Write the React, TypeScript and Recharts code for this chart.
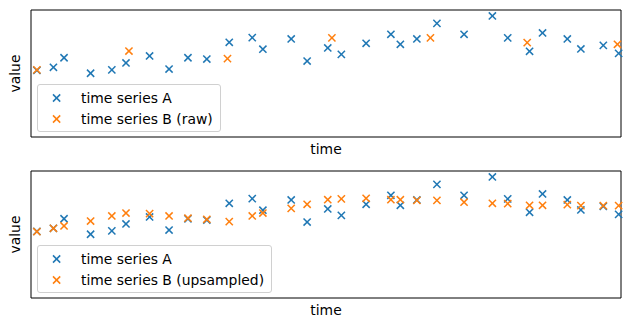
import React from 'react'
import { ScatterChart, Scatter, XAxis, YAxis, ReferenceArea } from 'recharts'

const timesA = [
  1.0, 3.8, 5.6, 10.1, 13.7, 16.1, 20.1, 23.4, 26.6, 29.8, 33.6, 37.5, 39.3, 44.1, 46.8, 50.3,
  52.6, 56.8, 61.0, 62.6, 65.4, 68.8, 73.4, 78.2, 80.8, 84.5, 86.7, 90.9, 93.2, 97.0, 99.6,
]
const seriesA = [
  5.25, 5.49, 6.24, 5.02, 5.28, 5.83, 6.38, 5.35, 6.24, 6.14, 7.46, 7.82, 6.91, 7.72, 5.98, 7.01,
  6.51, 7.38, 8.09, 7.3, 7.72, 8.95, 8.09, 9.53, 7.8, 6.75, 8.19, 7.72, 6.93, 7.22, 6.59,
]
const timesB = [1.0, 16.6, 33.3, 51.0, 67.7, 84.1, 99.4]
const seriesBRaw = [5.28, 6.77, 6.17, 7.8, 7.8, 7.43, 7.3]
const seriesBUpsampled = [
  5.22, 5.49, 5.67, 6.06, 6.46, 6.69, 6.64, 6.46, 6.28, 6.2, 6.01, 6.46, 6.69, 7.06, 7.38, 7.74,
  7.8, 7.85, 7.74, 7.74, 7.69, 7.69, 7.54, 7.46, 7.43, 7.3, 7.3, 7.35, 7.27, 7.27, 7.27,
]

const BLUE = '#1f77b4'
const ORANGE = '#ff7f0e'
const FONT = '"DejaVu Sans", sans-serif'

const dataA = timesA.map((t, i) => ({ t, v: seriesA[i] }))
const dataBRaw = timesB.map((t, i) => ({ t, v: seriesBRaw[i] }))
const dataBUp = timesA.map((t, i) => ({ t, v: seriesBUpsampled[i] }))

const XMark = (color: string) => (props: any) => {
  const { cx, cy } = props
  if (cx == null || cy == null) return <g />
  const r = 3.6
  return (
    <g stroke={color} strokeWidth={1.5}>
      <line x1={cx - r} y1={cy - r} x2={cx + r} y2={cy + r} />
      <line x1={cx - r} y1={cy + r} x2={cx + r} y2={cy - r} />
    </g>
  )
}

function LegendBox({ items }: { items: { name: string; color: string }[] }) {
  return (
    <div
      style={{
        position: 'absolute',
        left: 37,
        top: 84,
        background: 'rgba(255,255,255,0.8)',
        border: '1px solid #d0d0d0',
        borderRadius: 3,
        padding: '2px 7px 2px 0',
        fontFamily: FONT,
        fontSize: 13.9,
        color: '#000',
      }}
    >
      {items.map((it) => (
        <div key={it.name} style={{ display: 'flex', alignItems: 'center', height: 21 }}>
          <svg width={43} height={20} style={{ flexShrink: 0 }}>
            <g stroke={it.color} strokeWidth={1.5}>
              <line x1={15} y1={6.4} x2={22.2} y2={13.6} />
              <line x1={15} y1={13.6} x2={22.2} y2={6.4} />
            </g>
          </svg>
          <span style={{ whiteSpace: 'nowrap' }}>{it.name}</span>
        </div>
      ))}
    </div>
  )
}

function Panel({ bData, bName }: { bData: { t: number; v: number }[]; bName: string }) {
  return (
    <div style={{ position: 'relative', width: 630, height: 161 }}>
      <ScatterChart width={630} height={161} margin={{ top: 10, right: 9, left: 0, bottom: 0 }}>
        <XAxis
          type="number"
          dataKey="t"
          domain={[0, 100]}
          height={24}
          tick={false}
          tickLine={false}
          axisLine={false}
          label={{ value: 'time', position: 'center', fill: '#000', fontSize: 13.9, fontFamily: FONT }}
        />
        <YAxis
          type="number"
          dataKey="v"
          domain={[0, 10]}
          width={31}
          tick={false}
          tickLine={false}
          axisLine={false}
          label={{ value: 'value', angle: -90, position: 'center', fill: '#000', fontSize: 13.9, fontFamily: FONT }}
        />
        <ReferenceArea x1={0} x2={100} y1={0} y2={10} fill="none" stroke="#000" strokeWidth={1} />
        <Scatter name="time series A" data={dataA} shape={XMark(BLUE)} isAnimationActive={false} />
        <Scatter name={bName} data={bData} shape={XMark(ORANGE)} isAnimationActive={false} />
      </ScatterChart>
      <LegendBox
        items={[
          { name: 'time series A', color: BLUE },
          { name: bName, color: ORANGE },
        ]}
      />
    </div>
  )
}

export default function App() {
  return (
    <div style={{ position: 'fixed', left: 0, top: 0, width: 630, height: 328, background: '#fff' }}>
      <Panel bData={dataBRaw} bName="time series B (raw)" />
      <Panel bData={dataBUp} bName="time series B (upsampled)" />
    </div>
  )
}
